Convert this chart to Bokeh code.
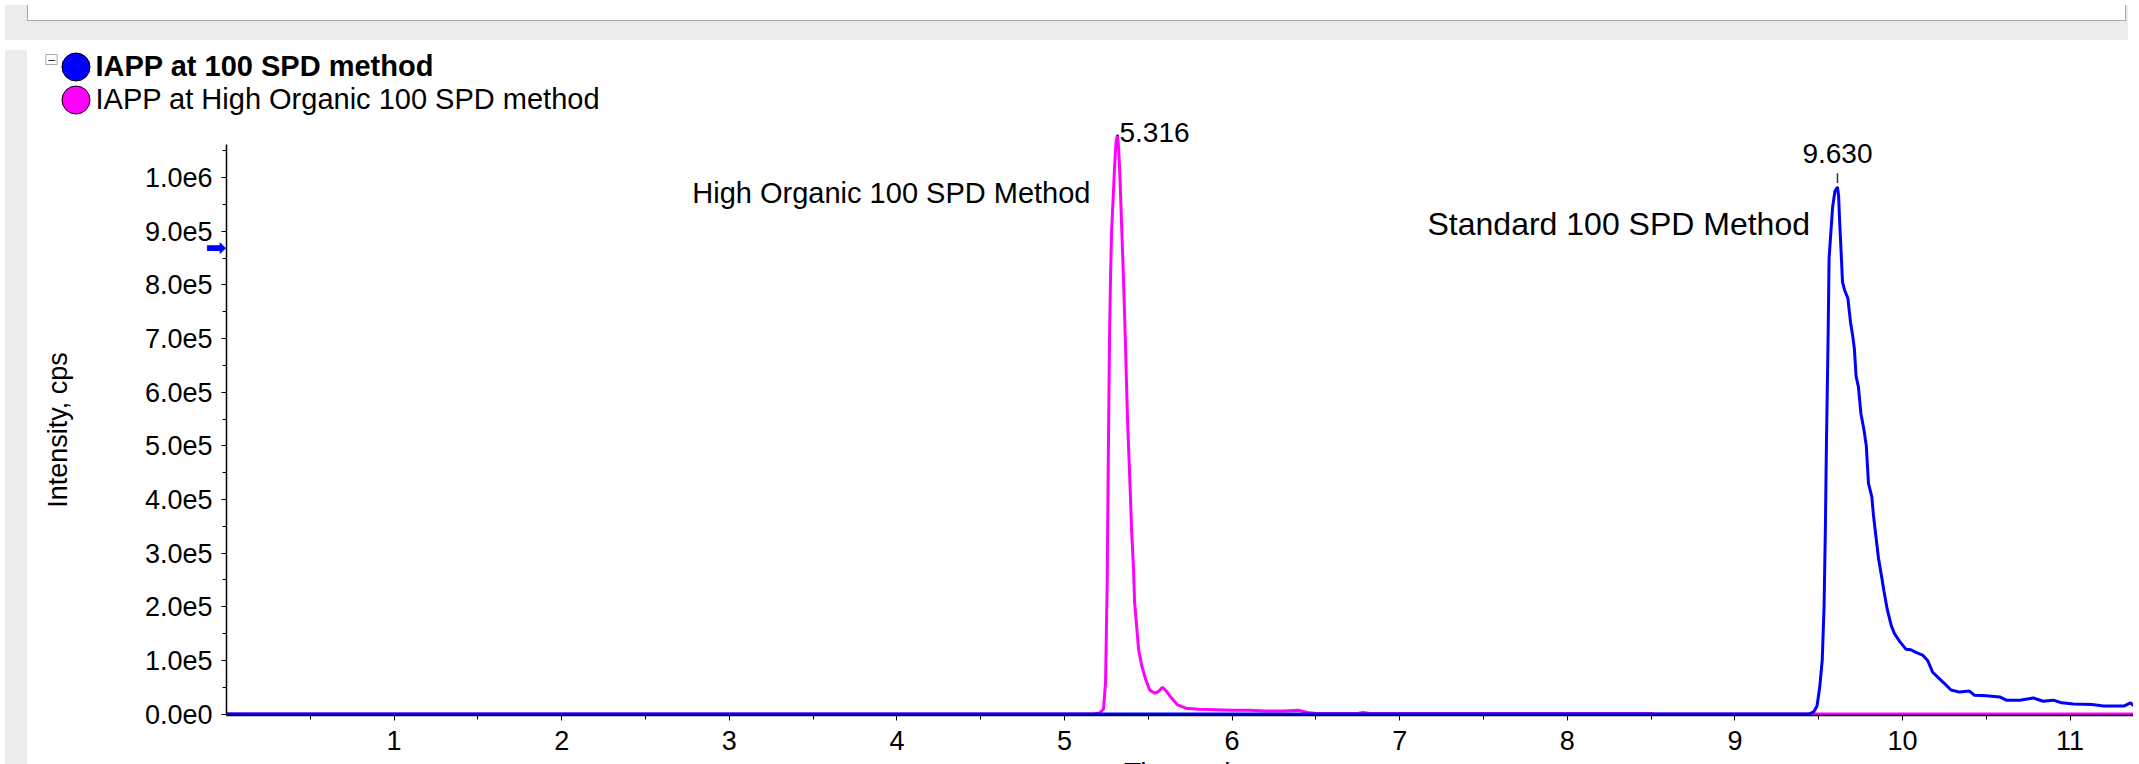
from bokeh.plotting import figure
from bokeh.models import (Range1d, FixedTicker, Label, Legend, LegendItem, ColumnDataSource, Div)
from bokeh.layouts import column, row
from bokeh.embed import file_html
from bokeh.resources import INLINE

# ---------------- data ----------------
series_names = ["IAPP at 100 SPD method", "IAPP at High Organic 100 SPD method"]
series_colors = ["#0000ff", "#ff00ff"]

ho_time = [0.0, 5.17, 5.21, 5.233, 5.245, 5.255, 5.262, 5.269, 5.275, 5.281, 5.29, 5.299, 5.307,
           5.316, 5.323, 5.331, 5.341, 5.351, 5.36, 5.376, 5.394, 5.40, 5.412, 5.418, 5.43, 5.442,
           5.46, 5.484, 5.508, 5.538, 5.56, 5.585, 5.61, 5.633, 5.675, 5.723, 5.80, 5.90, 6.00,
           6.10, 6.20, 6.30, 6.40, 6.45, 6.50, 6.75, 6.78, 6.82, 8.50, 8.52, 11.45]
ho_intensity = [0, 0, 2e3, 1e4, 6e4, 2.5e5, 5.0e5, 7.1e5, 8.2e5, 9.0e5, 9.6e5, 1.02e6, 1.065e6,
                1.079e6, 1.055e6, 1.0e6, 9.1e5, 8.2e5, 7.3e5, 5.5e5, 4.0e5, 3.45e5, 2.7e5, 2.1e5,
                1.66e5, 1.21e5, 9.1e4, 6.5e4, 4.5e4, 3.9e4, 4.2e4, 5.0e4, 4.2e4, 3.2e4, 1.7e4,
                1.1e4, 9e3, 8e3, 7e3, 7e3, 6e3, 6e3, 7e3, 3e3, 1e3, 1e3, 3e3, 1e3, 1e3, 0, 0]

std_time = [0.0, 9.44, 9.47, 9.49, 9.506, 9.521, 9.532, 9.54, 9.546, 9.556, 9.562, 9.583, 9.597,
            9.612, 9.619, 9.624, 9.634, 9.642, 9.655, 9.674, 9.69, 9.703, 9.713, 9.723, 9.737,
            9.752, 9.77, 9.784, 9.797, 9.817, 9.827, 9.84, 9.857, 9.876, 9.889, 9.909, 9.933,
            9.952, 9.984, 10.02, 10.05, 10.08, 10.12, 10.15, 10.18, 10.21, 10.24, 10.29, 10.34,
            10.40, 10.43, 10.50, 10.58, 10.62, 10.70, 10.78, 10.84, 10.90, 10.95, 11.02, 11.13,
            11.20, 11.32, 11.36, 11.39, 11.45]
std_intensity = [0, 0, 4e3, 1.5e4, 5e4, 1.0e5, 2.0e5, 3.5e5, 5.0e5, 7.0e5, 8.5e5, 9.45e5, 9.75e5,
                 9.82e5, 9.65e5, 9.25e5, 8.6e5, 8.05e5, 7.9e5, 7.75e5, 7.3e5, 7.05e5, 6.8e5, 6.3e5,
                 6.1e5, 5.6e5, 5.3e5, 5.0e5, 4.3e5, 4.05e5, 3.7e5, 3.35e5, 2.9e5, 2.55e5, 2.3e5,
                 1.95e5, 1.65e5, 1.5e5, 1.35e5, 1.21e5, 1.2e5, 1.15e5, 1.1e5, 1.0e5, 7.8e4, 6.9e4,
                 6.0e4, 4.5e4, 4.1e4, 4.3e4, 3.5e4, 3.4e4, 3.2e4, 2.6e4, 2.6e4, 3.0e4, 2.4e4,
                 2.6e4, 2.1e4, 1.9e4, 1.8e4, 1.5e4, 1.5e4, 2.1e4, 1.3e4, 1.3e4]

peak_labels = ["5.316", "9.630"]
method_labels = ["High Organic 100 SPD Method", "Standard 100 SPD Method"]
method_label_pos = [(5.155, 9.72e5), (9.448, 9.13e5)]

x_tick_values = [1, 2, 3, 4, 5, 6, 7, 8, 9, 10, 11]
x_tick_labels = ["1", "2", "3", "4", "5", "6", "7", "8", "9", "10", "11"]
y_tick_values = [0, 1e5, 2e5, 3e5, 4e5, 5e5, 6e5, 7e5, 8e5, 9e5, 1e6]
y_tick_labels = ["0.0e0", "1.0e5", "2.0e5", "3.0e5", "4.0e5", "5.0e5", "6.0e5", "7.0e5",
                 "8.0e5", "9.0e5", "1.0e6"]
y_axis_top = 1.062e6
threshold_marker = 8.69e5

# ---------------- geometry (figure pixels) ----------------
GRAY = "#ececec"
FONT = "Liberation Sans"
FIG_W, FIG_H = 2101, 721
FIG_LEFT, FIG_TOP = 30, 43          # page position of the figure
X0_PX = 224 - FIG_LEFT               # x = 0 location
PX_PER_MIN = 167.6
Y0_PX = 711.6 - FIG_TOP              # y = 0 location (from top)
PX_PER_CPS = 53.65 / 1e5

x_start = -X0_PX / PX_PER_MIN
x_end = (FIG_W - X0_PX) / PX_PER_MIN
y_end = Y0_PX / PX_PER_CPS
y_start = -(FIG_H - Y0_PX) / PX_PER_CPS
x_axis_loc = -1.5 / 53.65 * 1e5

p = figure(width=FIG_W, height=FIG_H, output_backend="svg", toolbar_location=None,
           x_range=Range1d(x_start, x_end), y_range=Range1d(y_start, y_end),
           min_border=0, min_border_left=0, min_border_right=0, min_border_top=0,
           min_border_bottom=0)
p.outline_line_color = None
p.grid.visible = False
p.background_fill_color = "white"
p.border_fill_color = "white"

# curves (pink below, blue on top)
p.line(ho_time, ho_intensity, line_color=series_colors[1], line_width=3)
p.line(std_time, std_intensity, line_color=series_colors[0], line_width=3)

# axes placed inside the frame
xa = p.xaxis[0]
xa.fixed_location = x_axis_loc
xa.bounds = (0, x_end)
xa.ticker = FixedTicker(ticks=x_tick_values,
                        minor_ticks=[v - 0.5 for v in x_tick_values] + [x_tick_values[-1] + 0.5])
xa.major_label_overrides = {v: l for v, l in zip(x_tick_values, x_tick_labels)}
ya = p.yaxis[0]
ya.fixed_location = 0
ya.bounds = (x_axis_loc, y_axis_top)
ya.ticker = FixedTicker(ticks=y_tick_values,
                        minor_ticks=[v + 0.5e5 for v in y_tick_values])
ya.major_label_overrides = {v: l for v, l in zip(y_tick_values, y_tick_labels)}
ya.axis_label = "Intensity, cps"
ya.axis_label_standoff = 69
ya.axis_label_text_font = FONT
ya.axis_label_text_font_size = "27px"
ya.axis_label_text_font_style = "normal"
ya.axis_label_text_color = "black"
for ax in (xa, ya):
    ax.axis_line_color = "black"
    ax.axis_line_width = 1.5
    ax.major_tick_line_color = "black"
    ax.minor_tick_line_color = "black"
    ax.major_tick_in = 0
    ax.minor_tick_in = 0
    ax.major_tick_out = 5
    ax.minor_tick_out = 4
    ax.major_label_text_font = FONT
    ax.major_label_text_font_size = "27px"
    ax.major_label_text_color = "black"
xa.major_label_standoff = 10
ya.major_label_standoff = 9

# x-axis title (cut off by the bottom of the window, as in the reference)
p.add_layout(Label(x=1182.5 - FIG_LEFT, y=FIG_H - (754 - FIG_TOP), x_units="screen",
                   y_units="screen", text="Time, min", text_align="center",
                   text_baseline="top", text_font=FONT, text_font_size="28px",
                   text_color="black"))

# peak annotations (placed at each curve's apex)
ho_peak = max(ho_intensity)
std_peak = max(std_intensity)
ho_apex_t = ho_time[ho_intensity.index(ho_peak)]
std_apex_t = std_time[std_intensity.index(std_peak)]
p.add_layout(Label(x=ho_apex_t, y=ho_peak, x_offset=2, y_offset=3, text=peak_labels[0],
                   text_align="left", text_baseline="middle", text_font=FONT,
                   text_font_size="28px", text_color="black"))
p.segment(x0=[std_apex_t], x1=[std_apex_t], y0=[std_peak + 0.08e5],
          y1=[std_peak + 0.26e5], line_color="#333333", line_width=1.5)
p.add_layout(Label(x=std_apex_t, y=std_peak, y_offset=24, text=peak_labels[1],
                   text_align="center", text_baseline="bottom", text_font=FONT,
                   text_font_size="28px", text_color="black"))
for (lx, ly), txt, fs in zip(method_label_pos, method_labels, ["29px", "32px"]):
    p.add_layout(Label(x=lx, y=ly, text=txt, text_align="right", text_baseline="middle",
                       text_font=FONT, text_font_size=fs, text_color="black"))

# small blue arrow on the y axis
p.add_layout(Label(x=0, y=threshold_marker, x_offset=0, text="\u27a1", text_align="right",
                   text_baseline="middle", text_font="DejaVu Sans", text_font_size="25px",
                   text_color="#0000ff"))

# legend (two legends: first bold, second normal); ellipse legend glyph = 0.8 * box
G = 35
STANDOFF = 3
leg_specs = [(0, "bold", 64.0), (1, "normal", 97.5)]   # page y of marker centre
apex_pts = [(std_apex_t, std_peak), (ho_apex_t, ho_peak)]
for idx, style, cy in leg_specs:
    src = ColumnDataSource(dict(x=[apex_pts[idx][0]], y=[apex_pts[idx][1]]))
    r = p.ellipse("x", "y", source=src, width=1, height=1, width_units="screen",
                  height_units="screen", fill_color=series_colors[idx],
                  line_color="black", line_width=1)
    leg = Legend(items=[LegendItem(label=series_names[idx], renderers=[r])],
                 location=(73 - G / 2 - FIG_LEFT, FIG_H - (cy + G / 2 - FIG_TOP)),
                 orientation="vertical", glyph_width=G, glyph_height=G,
                 label_standoff=STANDOFF, padding=0, margin=0, spacing=0,
                 border_line_alpha=0, background_fill_alpha=0,
                 label_text_font=FONT, label_text_font_size="29px",
                 label_text_font_style=style, label_text_color="black")
    p.add_layout(leg)

# collapse box
p.add_layout(Label(x=49 - FIG_LEFT, y=FIG_H - (57 - FIG_TOP), x_units="screen",
                   y_units="screen", text="\u2212", text_align="center",
                   text_baseline="middle", text_font="DejaVu Sans", text_font_size="11px",
                   text_color="#333333", border_line_color="#a8a8a8",
                   background_fill_color="white", padding=1))

# surrounding window chrome
top_div = Div(width=2123, height=35, styles={"background-color": GRAY},
              text='<div style="position:absolute;left:22px;top:0px;width:2099px;height:16px;'
                   'background:white;border:1px solid #a8a8a8;border-top:none;"></div>')
left_div = Div(width=22, height=FIG_H, styles={"background-color": GRAY})

layout = column(top_div, row(left_div, p, spacing=0), spacing=0)

open("out.html", "w").write(file_html(layout, INLINE))
